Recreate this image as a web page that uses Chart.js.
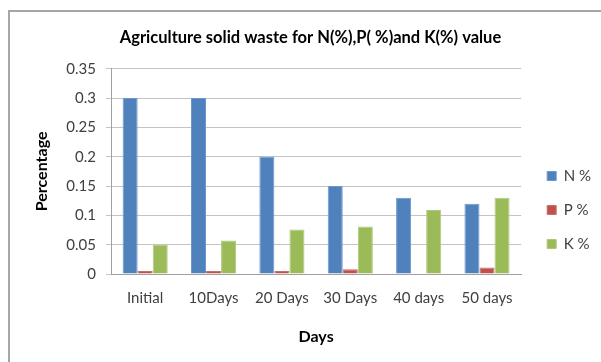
<!DOCTYPE html>
<html>
<head>
<meta charset="utf-8">
<script src="https://cdn.jsdelivr.net/npm/chart.js@4/dist/chart.umd.min.js"></script>
<style>
    body { margin: 0; background: #fff; }
    #frame { position: absolute; left: 8px; top: 10px; width: 600px; height: 360px; border: 2px solid #a6a6a6; box-sizing: border-box; }
    #wrap { position: absolute; left: 0; top: 0; width: 601px; height: 362px; }
</style>
</head>
<body>
<div id="frame"></div>
<div id="wrap"><canvas id="chart" width="601" height="362"></canvas></div>
<script>
// chart data
const days = ['Initial', '10Days', '20 Days', '30 Days', '40 days', '50 days'];
const nValues = [0.3, 0.3, 0.2, 0.15, 0.13, 0.12];
const pValues = [0.005, 0.005, 0.005, 0.008, 0, 0.011];
const kValues = [0.05, 0.057, 0.076, 0.081, 0.109, 0.13];
const yTicks = [0, 0.05, 0.1, 0.15, 0.2, 0.25, 0.3, 0.35];

const font = 'Lato, "Open Sans", sans-serif';

function bar(label, data, color, edge) {
    return {
        label: label,
        data: data,
        backgroundColor: color,
        borderColor: edge,
        borderWidth: 1,
        categoryPercentage: 0.66,
        barPercentage: 1.0
    };
}

new Chart(document.getElementById('chart').getContext('2d'), {
    type: 'bar',
    data: {
        labels: days,
        datasets: [
            bar('N %', nValues, '#4f81bd', '#6b97cf'),
            bar('P %', pValues, '#c0504d', '#cf6b68'),
            bar('K %', kValues, '#9bbb59', '#adc97a')
        ]
    },
    options: {
        responsive: false,
        animation: false,
        layout: { padding: { left: 20, right: 0, top: 12, bottom: 10 } },
        plugins: {
            title: {
                display: true,
                text: 'Agriculture solid waste for N(%),P( %)and K(%) value',
                color: '#000',
                font: { family: font, size: 16.5, weight: 'bold' },
                padding: { top: 16, bottom: 21 }
            },
            legend: {
                position: 'right',
                // empty legend title only pushes the items down a little
                title: { display: true, text: ' ', font: { size: 10 }, padding: { top: 22, bottom: 22 } },
                labels: {
                    color: '#404040',
                    font: { family: font, size: 15 },
                    boxWidth: 9,
                    boxHeight: 9,
                    padding: 19
                }
            },
            tooltip: { enabled: false }
        },
        scales: {
            x: {
                grid: { display: false, drawTicks: false },
                border: { color: '#a0a0a0' },
                ticks: { color: '#404040', font: { family: font, size: 15 }, padding: 15, maxRotation: 0 },
                title: {
                    display: true, text: 'Days', color: '#000',
                    font: { family: font, size: 16, weight: 'bold' },
                    padding: { top: 0, bottom: 6 }
                },
                afterFit: function(s) { s.height = 78; }
            },
            y: {
                min: 0,
                max: 0.35,
                afterBuildTicks: function(s) { s.ticks = yTicks.map(v => ({ value: v })); },
                grid: { color: '#c4c4c4', tickLength: 5 },
                border: { color: '#a0a0a0' },
                ticks: {
                    color: '#404040', font: { family: font, size: 15 }, padding: 10,
                    callback: function(v) { return String(Math.round(v * 100) / 100); }
                },
                title: {
                    display: true, text: 'Percentage', color: '#000',
                    font: { family: font, size: 16, weight: 'bold' },
                    padding: { top: 12, bottom: 0 }
                },
                afterFit: function(s) { s.width = 91; }
            },
            y2: {
                position: 'right',
                display: true,
                grid: { display: false, drawTicks: false },
                border: { display: false },
                ticks: { display: false },
                afterFit: function(s) { s.width = 7; }
            }
        }
    }
});
</script>
</body>
</html>
